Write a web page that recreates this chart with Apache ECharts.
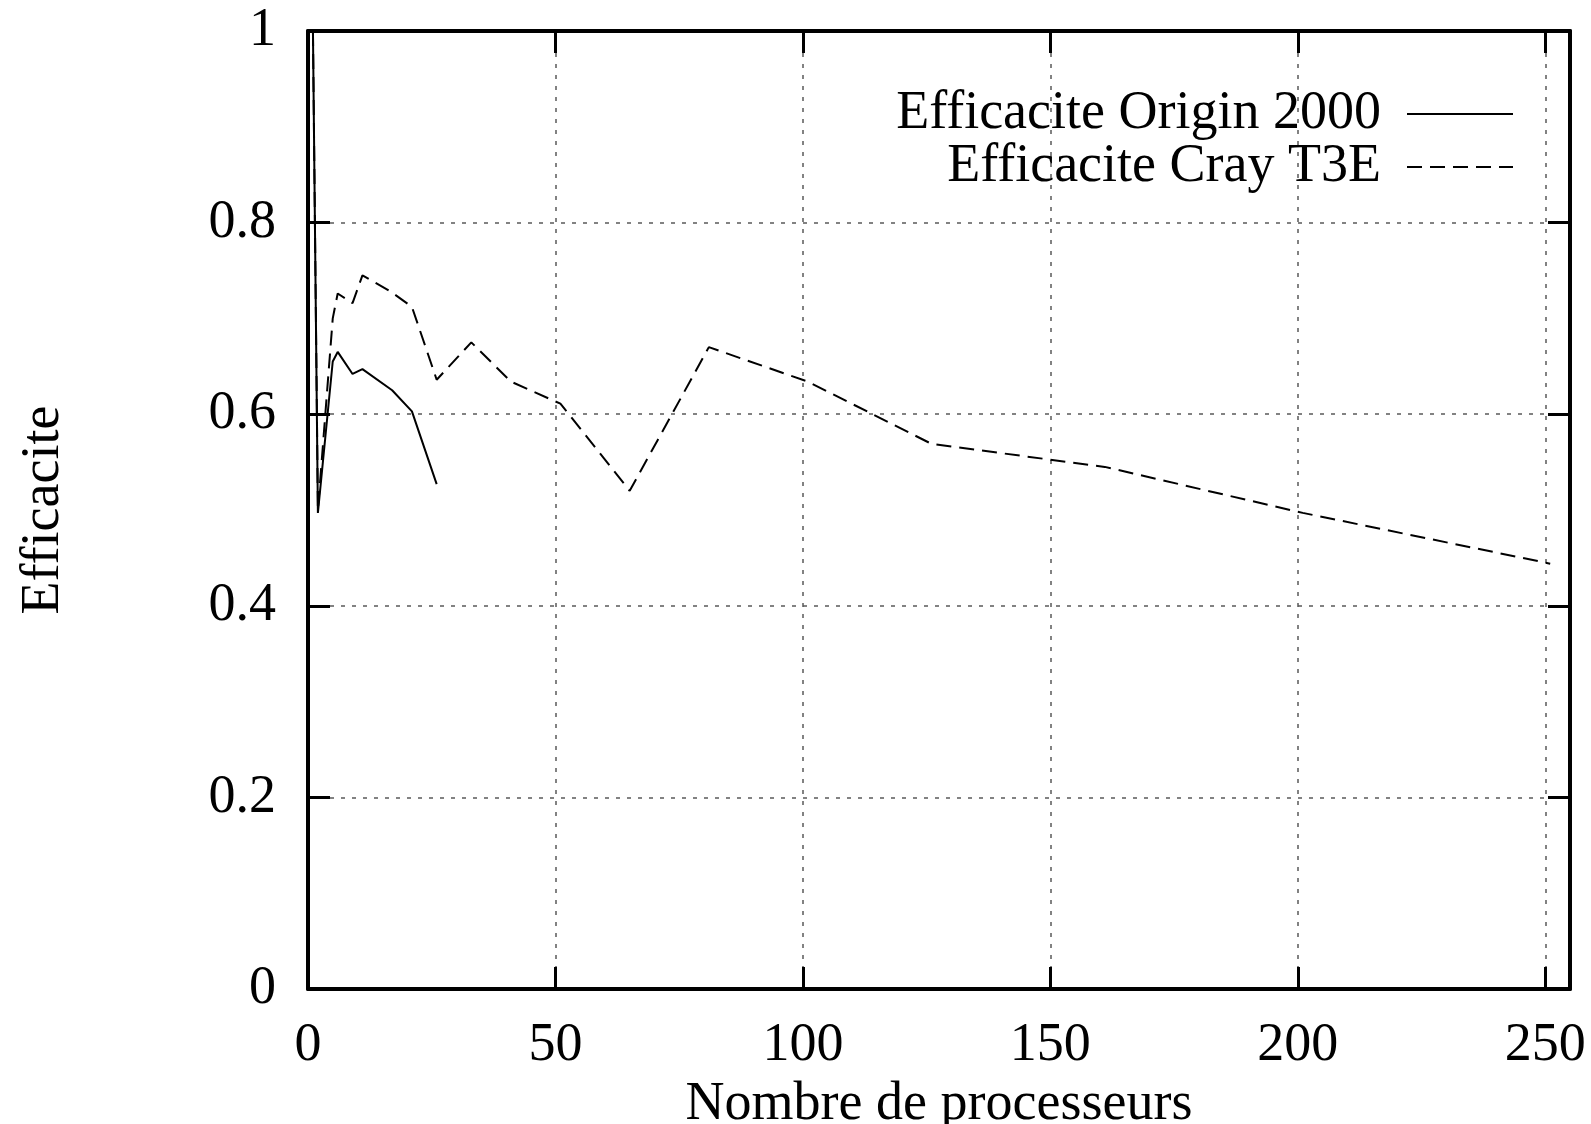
<!DOCTYPE html>
<html>
<head>
<meta charset="utf-8">
<script src="https://cdn.jsdelivr.net/npm/echarts@6/dist/echarts.min.js"></script>
<style>
  html, body { margin: 0; padding: 0; background: #fff; }
  #main { width: 1591px; height: 1124px; }
</style>
</head>
<body>
<div id="main"></div>
<script>
// valeurs
var originX = [1, 2, 5, 6, 9, 11, 17, 21, 26];
var originY = [1, 0.497, 0.655, 0.665, 0.642, 0.647, 0.625, 0.603, 0.527];

var crayX = [1, 2, 5, 6, 9, 11, 17, 21, 26, 33, 41, 51, 65, 81, 101, 126, 161, 201, 251];
var crayY = [1, 0.5, 0.70, 0.726, 0.716, 0.745, 0.727, 0.712, 0.636, 0.675, 0.634, 0.611, 0.520, 0.670, 0.634, 0.569, 0.545, 0.497, 0.444];

var seriesNames = ['Efficacite Origin 2000', 'Efficacite Cray T3E'];
var xName = 'Nombre de processeurs';
var yName = 'Efficacite';

var FONT = "'Liberation Serif', 'Times New Roman', serif";

function pairs(xs, ys) {
    var temp = [];
    for (var i = 0; i < xs.length; i++) {
        temp.push([xs[i], ys[i]]);
    }
    return temp;
}

var gridStyle = { color: '#5a5a5a', width: 1.5, type: [4, 7] };
var frame = { show: true, onZero: false, lineStyle: { color: '#000', width: 4 } };
var ticks = { inside: true, length: 22, lineStyle: { color: '#000', width: 3 } };

var myChart = echarts.init(document.getElementById('main'), null, { renderer: 'canvas' });
var option = {
    backgroundColor: '#fff',
    animation: false,
    textStyle: { fontFamily: FONT, color: '#000' },
    grid: {
        left: 308, right: 21, top: 31, bottom: 135,
        outerBoundsMode: 'none',
        containLabel: false
    },
    legend: {
        orient: 'vertical',
        align: 'right',
        right: 77,
        top: 87,
        padding: 0,
        itemGap: -1,
        itemWidth: 106,
        itemHeight: 14,
        data: seriesNames,
        itemStyle: { opacity: 0 },
        textStyle: { fontFamily: FONT, fontSize: 54, color: '#000', lineHeight: 40, padding: [0, 21, 0, 0] }
    },
    xAxis: [{
        type: 'value',
        min: 0, max: 255, interval: 50,
        name: xName,
        nameLocation: 'middle',
        nameGap: 84,
        nameTextStyle: { fontFamily: FONT, fontSize: 54, color: '#000' },
        axisLine: frame,
        axisTick: ticks,
        axisLabel: { fontFamily: FONT, fontSize: 54, color: '#000', margin: 30, showMaxLabel: false },
        splitLine: { show: true, lineStyle: gridStyle }
    }, {
        type: 'value', position: 'top',
        min: 0, max: 255, interval: 50,
        axisLine: frame,
        axisTick: ticks,
        axisLabel: { show: false },
        splitLine: { show: false }
    }],
    yAxis: [{
        type: 'value',
        min: 0, max: 1, interval: 0.2,
        name: yName,
        nameLocation: 'middle',
        nameGap: 237,
        nameTextStyle: { fontFamily: FONT, fontSize: 54, color: '#000' },
        axisLine: frame,
        axisTick: ticks,
        axisLabel: { fontFamily: FONT, fontSize: 54, color: '#000', margin: 32 },
        splitLine: { show: true, lineStyle: gridStyle }
    }, {
        type: 'value', position: 'right',
        min: 0, max: 1, interval: 0.2,
        axisLine: frame,
        axisTick: ticks,
        axisLabel: { show: false },
        splitLine: { show: false }
    }],
    series: [{
        name: seriesNames[0],
        type: 'line',
        symbol: 'none',
        lineStyle: { color: '#000', width: 2 },
        itemStyle: { color: '#000' },
        data: pairs(originX, originY)
    }, {
        name: seriesNames[1],
        type: 'line',
        symbol: 'none',
        lineStyle: { color: '#000', width: 2, type: [15, 8] },
        itemStyle: { color: '#000' },
        data: pairs(crayX, crayY)
    }]
};

myChart.setOption(option);
</script>
</body>
</html>
